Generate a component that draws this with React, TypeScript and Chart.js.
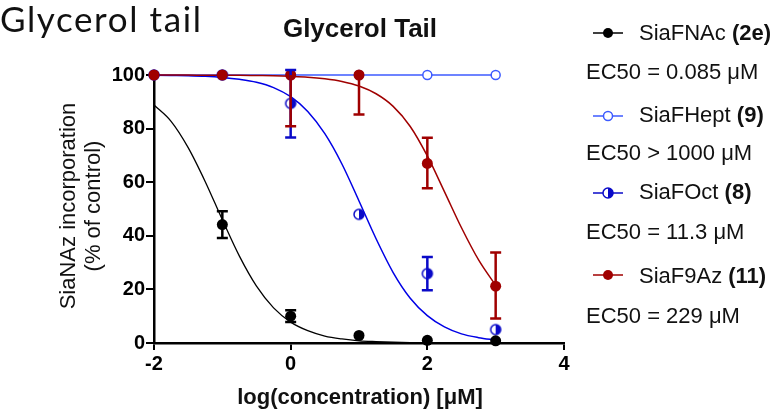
import React, { useEffect, useRef } from "react";
import { Chart, registerables } from "chart.js";

Chart.register(...registerables);

// ---- data ----
const logConc = [-2, -1, 0, 1, 2, 3];

const nacX = [-1, 0, 1, 2, 3];
const nacY = [44.2, 10.0, 2.8, 1.0, 0.8];
const nacErr = [5.0, 2.2, 0, 0, 0];

const heptY = [100, 100, 100, 100, 100, 100];

const octY = [100, 100, 89.4, 48.0, 25.9, 5.0];
const octErrUp = [0, 0, 12.5, 0, 6.2, 0];
const octErrDown = [0, 0, 12.7, 0, 6.2, 0];

const azY = [100, 100, 100, 100, 67.0, 21.2];
const azErrUp = [0, 0, 0, 0, 9.6, 12.6];
const azErrDown = [0, 0, 19.1, 14.7, 9.3, 12.1];

// fitted curves
const curveX = [-2, -1.75, -1.5, -1.25, -1, -0.75, -0.5, -0.25, 0, 0.25, 0.5, 0.75, 1, 1.25, 1.5, 1.75, 2, 2.25, 2.5, 2.75, 3];
const nacFit = [88.8, 82.7, 72.9, 60.2, 46.0, 32.4, 21.2, 13.1, 7.8, 4.6, 2.6, 1.5, 0.8, 0.5, 0.3, 0.15, 0.1, 0.05, 0.03, 0.02, 0.01];
const octFit = [99.9, 99.8, 99.7, 99.5, 99.1, 98.4, 97.3, 95.3, 91.9, 86.4, 78.1, 66.8, 53.0, 38.9, 26.3, 16.7, 10.2, 6.0, 3.4, 2.0, 1.1];
const azFit = [100, 100, 100, 99.9, 99.9, 99.9, 99.8, 99.7, 99.5, 99.2, 98.6, 97.6, 95.9, 93.0, 88.3, 80.8, 69.8, 56.5, 43.0, 31.0, 21.5];

const xTicks = [-2, 0, 2, 4];
const yTicks = [0, 20, 40, 60, 80, 100];

const BLACK = "#000000";
const HEPT = "#3c5aff";
const OCT = "#0a0ac8";
const OCT_LINE = "#0000e6";
const RED = "#a00000";
const FONT = "'Liberation Sans', Arial, sans-serif";

const pts = (xs: number[], ys: number[]) => xs.map((x, i) => ({ x, y: ys[i] }));

const errorBarPlugin = {
  id: "errorBars",
  afterDatasetsDraw(chart: any) {
    const ctx = chart.ctx;
    const xS = chart.scales.x;
    const yS = chart.scales.y;
    chart.data.datasets.forEach((ds: any) => {
      if (!ds.errUp) return;
      ds.data.forEach((p: any, j: number) => {
        const u = ds.errUp[j] || 0;
        const d = ds.errDown[j] || 0;
        if (!u && !d) return;
        const px = xS.getPixelForValue(p.x);
        const yTop = yS.getPixelForValue(p.y + u);
        const yBot = yS.getPixelForValue(p.y - d);
        ctx.save();
        ctx.strokeStyle = ds.errColor;
        ctx.lineWidth = 2.5;
        ctx.beginPath();
        ctx.moveTo(px, yTop);
        ctx.lineTo(px, yBot);
        if (u) {
          ctx.moveTo(px - 5.5, yTop);
          ctx.lineTo(px + 5.5, yTop);
        }
        if (d) {
          ctx.moveTo(px - 5.5, yBot);
          ctx.lineTo(px + 5.5, yBot);
        }
        ctx.stroke();
        ctx.restore();
      });
    });
  },
};

function halfMarker(): HTMLCanvasElement {
  const c = document.createElement("canvas");
  c.width = 14;
  c.height = 14;
  const g = c.getContext("2d")!;
  g.beginPath();
  g.arc(7, 7, 5, 0, Math.PI * 2);
  g.fillStyle = "#ffffff";
  g.fill();
  g.beginPath();
  g.arc(7, 7, 5, -Math.PI / 2, Math.PI / 2);
  g.closePath();
  g.fillStyle = OCT;
  g.fill();
  g.beginPath();
  g.arc(7, 7, 5, 0, Math.PI * 2);
  g.strokeStyle = OCT;
  g.lineWidth = 1.5;
  g.stroke();
  return c;
}

export default function App() {
  const ref = useRef<HTMLCanvasElement>(null);

  useEffect(() => {
    if (!ref.current) return;
    const half = halfMarker();
    const chart = new Chart(ref.current, {
      type: "scatter",
      data: {
        datasets: [
          {
            label: "SiaFHept fit",
            data: pts(logConc, heptY),
            showLine: true,
            borderColor: HEPT,
            borderWidth: 1.5,
            pointStyle: "circle",
            pointRadius: 4.5,
            pointBorderWidth: 1.5,
            pointBackgroundColor: "#ffffff",
            pointBorderColor: HEPT,
            clip: false,
            order: 10,
          } as any,
          {
            label: "SiaFNAc fit",
            data: pts(curveX, nacFit),
            showLine: true,
            borderColor: BLACK,
            borderWidth: 1.3,
            pointRadius: 0,
            cubicInterpolationMode: "monotone",
            clip: false,
            order: 9,
          },
          {
            label: "SiaFOct fit",
            data: pts(curveX, octFit),
            showLine: true,
            borderColor: OCT_LINE,
            borderWidth: 1.5,
            pointRadius: 0,
            cubicInterpolationMode: "monotone",
            clip: false,
            order: 8,
          },
          {
            label: "SiaF9Az fit",
            data: pts(curveX, azFit),
            showLine: true,
            borderColor: RED,
            borderWidth: 1.5,
            pointRadius: 0,
            cubicInterpolationMode: "monotone",
            clip: false,
            order: 7,
          },
          {
            label: "SiaFOct",
            data: pts(logConc, octY),
            showLine: false,
            pointStyle: half,
            pointRadius: 6,
            errUp: octErrUp,
            errDown: octErrDown,
            errColor: OCT,
            clip: false,
            order: 6,
          } as any,
          {
            label: "SiaFNAc",
            data: pts(nacX, nacY),
            showLine: false,
            pointStyle: "circle",
            pointRadius: 5.5,
            pointBackgroundColor: BLACK,
            pointBorderColor: BLACK,
            pointBorderWidth: 0,
            errUp: nacErr,
            errDown: nacErr,
            errColor: BLACK,
            clip: false,
            order: 5,
          } as any,
          {
            label: "SiaF9Az",
            data: pts(logConc, azY),
            showLine: false,
            pointStyle: "circle",
            pointRadius: 5.5,
            pointBackgroundColor: RED,
            pointBorderColor: RED,
            pointBorderWidth: 0,
            errUp: azErrUp,
            errDown: azErrDown,
            errColor: RED,
            clip: false,
            order: 4,
          } as any,
        ],
      },
      options: {
        responsive: false,
        animation: false,
        devicePixelRatio: 1,
        layout: { padding: { left: 0, top: 75, right: 36, bottom: 0 } },
        plugins: { legend: { display: false }, tooltip: { enabled: false }, title: { display: false } },
        scales: {
          x: {
            type: "linear",
            min: -2,
            max: 4,
            afterBuildTicks: (s: any) => {
              s.ticks = xTicks.map((v) => ({ value: v }));
            },
            afterFit: (s: any) => {
              s.height = 67;
            },
            ticks: {
              color: BLACK,
              font: { family: FONT, size: 20, weight: "bold" },
              padding: 2,
              maxRotation: 0,
            },
            grid: {
              drawOnChartArea: false,
              drawTicks: true,
              tickLength: 7,
              color: BLACK,
              lineWidth: 2,
            },
            border: { display: true, color: BLACK, width: 2.5 },
          },
          y: {
            type: "linear",
            min: 0,
            max: 100,
            afterBuildTicks: (s: any) => {
              s.ticks = yTicks.map((v) => ({ value: v }));
            },
            afterFit: (s: any) => {
              s.width = 154;
            },
            ticks: {
              color: BLACK,
              font: { family: FONT, size: 20, weight: "bold" },
              padding: 1,
            },
            grid: {
              drawOnChartArea: false,
              drawTicks: true,
              tickLength: 8,
              color: BLACK,
              lineWidth: 2,
            },
            border: { display: true, color: BLACK, width: 2.5 },
          },
        },
      } as any,
      plugins: [errorBarPlugin],
    });
    return () => chart.destroy();
  }, []);

  const textStyle = { fontFamily: FONT, fontSize: 22, fill: "#111" } as any;
  const legendRows = [
    { y: 33, color: BLACK, kind: "filled", name: "SiaFNAc ", tag: "(2e)", nameBase: 39.5, ec: "EC50 = 0.085 \u03bcM", ecBase: 78.5 },
    { y: 116, color: HEPT, kind: "open", name: "SiaFHept ", tag: "(9)", nameBase: 122, ec: "EC50 > 1000 \u03bcM", ecBase: 160 },
    { y: 193, color: OCT, kind: "half", name: "SiaFOct ", tag: "(8)", nameBase: 199, ec: "EC50 = 11.3 \u03bcM", ecBase: 238.5 },
    { y: 275, color: RED, kind: "filled", name: "SiaF9Az ", tag: "(11)", nameBase: 282.5, ec: "EC50 = 229 \u03bcM", ecBase: 323 },
  ];

  return (
    <div style={{ position: "fixed", left: 0, top: 0, width: 773, height: 410, background: "#fff", overflow: "hidden" }}>
      <canvas ref={ref} width={600} height={410} style={{ position: "absolute", left: 0, top: 0, width: 600, height: 410 }} />
      <svg width={773} height={410} style={{ position: "absolute", left: 0, top: 0, pointerEvents: "none" }}>
        <text x={0} y={32} style={{ fontFamily: "Lato, 'Open Sans', sans-serif", fontSize: 35, letterSpacing: 1.6, fill: "#111" } as any}>
          Glycerol tail
        </text>
        <text x={360} y={36.5} textAnchor="middle" style={{ fontFamily: FONT, fontSize: 26, fontWeight: "bold", fill: "#111" } as any}>
          Glycerol Tail
        </text>
        <text transform="translate(75,206) rotate(-90)" textAnchor="middle" style={textStyle}>
          SiaNAz incorporation
        </text>
        <text transform="translate(100,206) rotate(-90)" textAnchor="middle" style={textStyle}>
          (% of control)
        </text>
        <text x={360} y={404} textAnchor="middle" style={{ fontFamily: FONT, fontSize: 22, fontWeight: "bold", fill: "#111" } as any}>
          log(concentration) [{"\u03bc"}M]
        </text>
        {legendRows.map((r, i) => (
          <g key={i}>
            <line x1={593} x2={623} y1={r.y} y2={r.y} stroke={r.color} strokeWidth={1.5} />
            {r.kind === "filled" && <circle cx={608} cy={r.y} r={5} fill={r.color} />}
            {r.kind === "open" && <circle cx={608} cy={r.y} r={4.5} fill="#fff" stroke={r.color} strokeWidth={1.5} />}
            {r.kind === "half" && (
              <g>
                <circle cx={608} cy={r.y} r={5} fill="#fff" />
                <path d={`M608 ${r.y - 5} A5 5 0 0 1 608 ${r.y + 5} Z`} fill={r.color} />
                <circle cx={608} cy={r.y} r={5} fill="none" stroke={r.color} strokeWidth={1.5} />
              </g>
            )}
            <text x={639} y={r.nameBase} style={textStyle}>
              {r.name}
              <tspan style={{ fontWeight: "bold" } as any}>{r.tag}</tspan>
            </text>
            <text x={586} y={r.ecBase} style={textStyle}>
              {r.ec}
            </text>
          </g>
        ))}
      </svg>
    </div>
  );
}
